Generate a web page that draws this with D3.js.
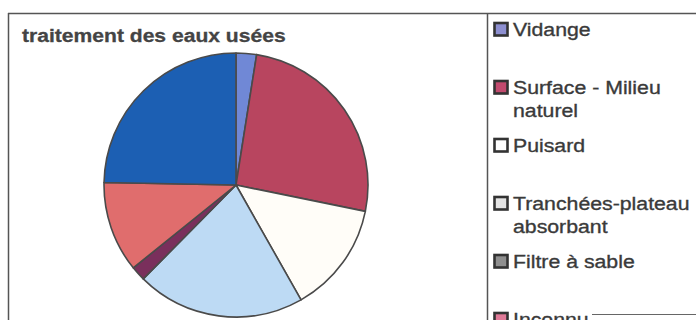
<!DOCTYPE html>
<html>
<head>
<meta charset="utf-8">
<script src="https://cdn.jsdelivr.net/npm/d3@7"></script>
<style>
  html, body { margin: 0; padding: 0; background: #fff; }
  svg { display: block; }
  text { font-family: "Liberation Sans", Arial, Helvetica, sans-serif; }
</style>
</head>
<body>
<svg id="chart" width="696" height="320"></svg>
<script>
// ---- data ----
const title = "traitement des eaux usées";
const categories = ["Vidange", "Surface - Milieu\nnaturel", "Puisard", "Tranchées-plateau\nabsorbant", "Filtre à sable", "Inconnu", "Autre"];
const values = [2.5, 25.7, 13.6, 20.6, 1.8, 11.1, 24.7];
const sliceColors = ["#7088d6", "#b8455f", "#fffdf8", "#bddaf4", "#7a2f5c", "#e06d6d", "#1c5fb3"];
const swatchColors = ["#8d8fd0", "#c24a6e", "#ffffff", "#e4e4e4", "#8f8f8f", "#e07a98", "#1c5fb3"];

const svg = d3.select("#chart");
const ink = "#3a3a3a";

// frame
svg.append("line").attr("x1", 8).attr("x2", 696).attr("y1", 13.5).attr("y2", 13.5)
  .attr("stroke", "#555").attr("stroke-width", 1.5);
svg.append("line").attr("x1", 8.5).attr("x2", 8.5).attr("y1", 13).attr("y2", 320)
  .attr("stroke", "#555").attr("stroke-width", 1.5);
svg.append("line").attr("x1", 487.5).attr("x2", 487.5).attr("y1", 13).attr("y2", 320)
  .attr("stroke", "#555").attr("stroke-width", 1.5);
svg.append("line").attr("x1", 592).attr("x2", 696).attr("y1", 314.5).attr("y2", 314.5)
  .attr("stroke", "#666").attr("stroke-width", 1.2);

// title
svg.append("text")
  .attr("transform", "translate(22,42) scale(1.11,1)")
  .attr("font-size", 19).attr("font-weight", "bold").attr("fill", "#444")
  .attr("stroke", "#444").attr("stroke-width", 0.3)
  .text(title);

// pie
const cx = 236, cy = 185, r = 132;
const pie = d3.pie().sort(null).value(d => d).startAngle(0).endAngle(2 * Math.PI);
const arc = d3.arc().innerRadius(0).outerRadius(r);
const g = svg.append("g").attr("transform", `translate(${cx},${cy})`);
g.selectAll("path").data(pie(values)).join("path")
  .attr("d", arc)
  .attr("fill", (d, i) => sliceColors[i])
  .attr("stroke", "#4a4a4a").attr("stroke-width", 1.6).attr("stroke-linejoin", "round");

// legend
const legY = d3.scaleLinear().domain([0, 1]).range([36, 94]);
const leg = svg.append("g");
const items = leg.selectAll("g").data(categories).join("g")
  .attr("transform", (d, i) => `translate(494,${legY(i)})`);
items.append("rect")
  .attr("x", 0.5).attr("y", -13).attr("width", 13).attr("height", 12.5)
  .attr("fill", (d, i) => swatchColors[i])
  .attr("stroke", "#333").attr("stroke-width", 2.6);
items.each(function (d) {
  const lines = d.split("\n");
  const t = d3.select(this);
  lines.forEach((line, k) => {
    t.append("text")
      .attr("transform", `translate(19,${k * 23}) scale(1.12,1)`)
      .attr("font-size", 19).attr("fill", ink)
      .attr("stroke", ink).attr("stroke-width", 0.35)
      .text(line);
  });
});
</script>
</body>
</html>
